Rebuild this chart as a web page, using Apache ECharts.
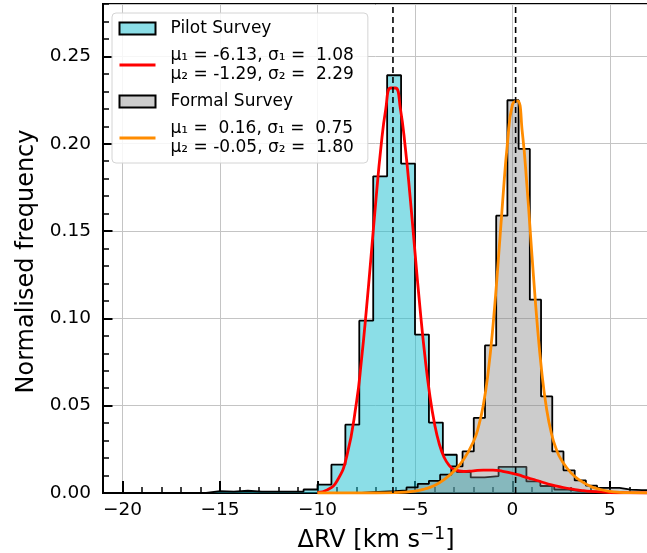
<!DOCTYPE html>
<html><head><meta charset="utf-8">
<script src="https://cdn.jsdelivr.net/npm/echarts@6/dist/echarts.min.js"></script>
<style>html,body{margin:0;padding:0;background:#fff}#c{width:647px;height:553px}</style>
</head><body><div id="c"></div>
<script>
// ---- data ----
const pilotEdges = [-15.714, -15.0, -14.286, -13.571, -12.857, -12.143, -11.429, -10.714, -10.0, -9.286, -8.571, -7.857, -7.143, -6.429, -5.714, -5.0, -4.286, -3.571, -2.857, -2.143, -1.429, -0.714, 0.0, 0.714, 1.429, 2.143, 2.857, 3.571, 4.286, 5.0];
const pilotFreq = [0.0011, 0.0008, 0.0013, 0.0008, 0.0008, 0.0008, 0.0008, 0.0020, 0.0048, 0.0162, 0.0391, 0.0987, 0.1813, 0.2392, 0.1886, 0.0907, 0.0403, 0.0219, 0.0120, 0.0089, 0.0097, 0.0150, 0.0150, 0.0066, 0.0040, 0.0020, 0.0010, 0.0008, 0.0005];
const formalEdges = [-7.736, -7.161, -6.586, -6.011, -5.436, -4.861, -4.286, -3.711, -3.136, -2.561, -1.986, -1.411, -0.836, -0.261, 0.314, 0.889, 1.464, 2.039, 2.614, 3.189, 3.764, 4.339, 4.914, 5.489, 6.064, 6.639, 7.214];
const formalFreq = [0.0005, 0.0008, 0.0010, 0.0015, 0.0032, 0.0052, 0.0070, 0.0105, 0.0152, 0.0238, 0.0430, 0.0845, 0.1588, 0.2249, 0.1970, 0.1107, 0.0553, 0.0238, 0.0130, 0.0072, 0.0042, 0.0029, 0.0029, 0.0019, 0.0017, 0.0015];

const pilotFitX = [-10, -9.5, -9, -8.5, -8, -7.75, -7.5, -7.25, -7, -6.75, -6.5, -6.25, -6, -5.75, -5.5, -5.25, -5, -4.75, -4.5, -4.25, -4, -3.75, -3.5, -3.25, -3, -2.5, -2, -1.5, -1, -0.5, 0, 0.5, 1, 1.5, 2, 2.5, 3, 3.5, 4, 5, 6, 7];
const pilotFitY = [0.0004, 0.0018, 0.0069, 0.0210, 0.0520, 0.0756, 0.1041, 0.1359, 0.1683, 0.1976, 0.2198, 0.2319, 0.2319, 0.2201, 0.1981, 0.1695, 0.1378, 0.1067, 0.0792, 0.0567, 0.0398, 0.0279, 0.0203, 0.0158, 0.0135, 0.0123, 0.0127, 0.0131, 0.0131, 0.0124, 0.0113, 0.0097, 0.0080, 0.0063, 0.0047, 0.0034, 0.0023, 0.0015, 0.0009, 0.0003, 0.0001, 0.0000];

const formalFitX = [-10, -8, -7, -6, -5, -4.5, -4, -3.5, -3, -2.5, -2, -1.75, -1.5, -1.25, -1, -0.75, -0.5, -0.25, 0, 0.25, 0.5, 0.75, 1, 1.25, 1.5, 1.75, 2, 2.25, 2.5, 3, 3.5, 4, 4.5, 5, 5.5, 6, 7];
const formalFitY = [0.0000, 0.0000, 0.0000, 0.0002, 0.0011, 0.0023, 0.0043, 0.0077, 0.0126, 0.0193, 0.0295, 0.0377, 0.0501, 0.0689, 0.0958, 0.1300, 0.1677, 0.2014, 0.2225, 0.2245, 0.2069, 0.1745, 0.1358, 0.0991, 0.0693, 0.0480, 0.0339, 0.0249, 0.0190, 0.0115, 0.0069, 0.0038, 0.0020, 0.0009, 0.0004, 0.0002, 0.0000];

const fitMeans = [-6.13, 0.16];
const pilotName = 'Pilot Survey';
const formalName = 'Formal Survey';
const pilotFitLabel = 'μ₁ = -6.13, σ₁ =  1.08\nμ₂ = -1.29, σ₂ =  2.29';
const formalFitLabel = 'μ₁ =  0.16, σ₁ =  0.75\nμ₂ = -0.05, σ₂ =  1.80';
const xLabelMain = 'ΔRV [km s';
const xLabelSup = '−1';
const xLabelEnd = ']';
const yLabel = 'Normalised frequency';

// ---- build ----
function stepPoints(edges, freq) {
  const pts = [[edges[0], 0]];
  for (let i = 0; i < freq.length; i++) pts.push([edges[i], freq[i]]);
  pts.push([edges[edges.length - 1], freq[freq.length - 1]]);
  pts.push([edges[edges.length - 1], 0]);
  return pts;
}
function zip(xs, ys) { return xs.map((x, i) => [x, ys[i]]); }

const FONT = 'DejaVu Sans';
const cyanFill = 'rgba(23,190,207,0.5)';
const grayFill = 'rgba(128,128,128,0.4)';

const chart = echarts.init(document.getElementById('c'), null, {renderer: 'canvas', width: 647, height: 553});

const series = [
  {type: 'line', name: 'pilotHist', data: stepPoints(pilotEdges, pilotFreq), step: 'end', symbol: 'none', silent: true,
   lineStyle: {color: '#000', width: 1.8}, areaStyle: {color: cyanFill, opacity: 1}, z: 2},
  {type: 'line', name: 'formalHist', data: stepPoints(formalEdges, formalFreq), step: 'end', symbol: 'none', silent: true,
   lineStyle: {color: '#000', width: 1.8}, areaStyle: {color: grayFill, opacity: 1}, z: 3},
  {type: 'line', name: pilotFitLabel, data: zip(pilotFitX, pilotFitY), smooth: 0.5, symbol: 'none', silent: true,
   color: '#ff0000', lineStyle: {color: '#ff0000', width: 2.8}, z: 4},
  {type: 'line', name: formalFitLabel, data: zip(formalFitX, formalFitY), smooth: 0.5, symbol: 'none', silent: true,
   color: '#ff8c00', lineStyle: {color: '#ff8c00', width: 2.8}, z: 5},
  {type: 'bar', name: pilotName, data: [], itemStyle: {color: cyanFill, borderColor: '#000', borderWidth: 1.5}},
  {type: 'bar', name: formalName, data: [], itemStyle: {color: grayFill, borderColor: '#000', borderWidth: 1.5}}
];
fitMeans.forEach((m, i) => {
  series.push({type: 'line', name: 'mean' + i, data: [[m, 0], [m, 0.28]], symbol: 'none', silent: true,
    lineStyle: {color: '#000', width: 1.6, type: [6, 4]}, z: 6});
});

const option = {
  animation: false,
  backgroundColor: '#fff',
  grid: {left: 103, top: 4, width: 546, height: 489, containLabel: false, outerBoundsMode: 'none',
         show: true, borderColor: '#000', borderWidth: 2, backgroundColor: 'transparent'},
  xAxis: [
    {type: 'value', min: -21, max: 7, minInterval: 5, maxInterval: 5, splitNumber: 6, position: 'bottom',
     name: '{a|' + xLabelMain + '}{s|' + xLabelSup + '}{a|' + xLabelEnd + '}', nameLocation: 'middle', nameGap: 33,
     nameTextStyle: {fontFamily: FONT, fontSize: 24, color: '#000',
       rich: {a: {fontFamily: FONT, fontSize: 24, color: '#000', lineHeight: 30, verticalAlign: 'middle'},
              s: {fontFamily: FONT, fontSize: 17, color: '#000', lineHeight: 17, verticalAlign: 'top'}}},
     axisLine: {show: true, onZero: false, lineStyle: {color: '#000', width: 2}},
     axisTick: {show: true, inside: true, length: 12, lineStyle: {color: '#000', width: 2}},
     axisLabel: {show: true, margin: 8, showMinLabel: false, showMaxLabel: false, fontFamily: FONT, fontSize: 18.5, color: '#000',
       formatter: v => v < 0 ? '\u2212' + (-v) : String(v)},
     splitLine: {show: true, lineStyle: {color: '#c4c4c4', width: 1}}},
    {type: 'value', min: -21, max: 7, interval: 1, position: 'bottom',
     axisLine: {show: false, onZero: false},
     axisTick: {show: true, inside: true, length: 6, lineStyle: {color: '#000', width: 1.5}},
     axisLabel: {show: false}, splitLine: {show: false}}
  ],
  yAxis: [
    {type: 'value', min: 0, max: 0.28, interval: 0.05, position: 'left',
     name: yLabel, nameLocation: 'middle', nameGap: 60,
     nameTextStyle: {fontFamily: FONT, fontSize: 24, color: '#000', padding: [0, 26, 0, 0]},
     axisLine: {show: true, onZero: false, lineStyle: {color: '#000', width: 2}},
     axisTick: {show: true, inside: true, length: 9.5, lineStyle: {color: '#000', width: 2}},
     axisLabel: {show: true, margin: 12, showMaxLabel: false, fontFamily: FONT, fontSize: 18.5, color: '#000',
       formatter: v => v.toFixed(2)},
     splitLine: {show: true, lineStyle: {color: '#c4c4c4', width: 1}}},
    {type: 'value', min: 0, max: 0.28, interval: 0.01, position: 'left',
     axisLine: {show: false, onZero: false},
     axisTick: {show: true, inside: true, length: 6, lineStyle: {color: '#000', width: 1.5}},
     axisLabel: {show: false}, splitLine: {show: false}}
  ],
  legend: {
    orient: 'vertical', left: 112, top: 13,
    selectedMode: false,
    itemWidth: 36, itemHeight: 12, itemGap: 8,
    padding: [6, 14, 6, 6],
    backgroundColor: 'rgba(255,255,255,0.85)', borderColor: '#d4d4d4', borderWidth: 1, borderRadius: 4,
    textStyle: {fontFamily: FONT, fontSize: 17, color: '#000', lineHeight: 19, padding: [0, 0, 0, 10]},
    data: [
      {name: pilotName, icon: 'rect'},
      {name: pilotFitLabel, itemStyle: {color: 'rgba(0,0,0,0)', borderColor: 'rgba(0,0,0,0)', borderWidth: 0}, lineStyle: {width: 3}},
      {name: formalName, icon: 'rect'},
      {name: formalFitLabel, itemStyle: {color: 'rgba(0,0,0,0)', borderColor: 'rgba(0,0,0,0)', borderWidth: 0}, lineStyle: {width: 3}}
    ]
  },
  series: series
};
chart.setOption(option);
</script>
</body></html>
